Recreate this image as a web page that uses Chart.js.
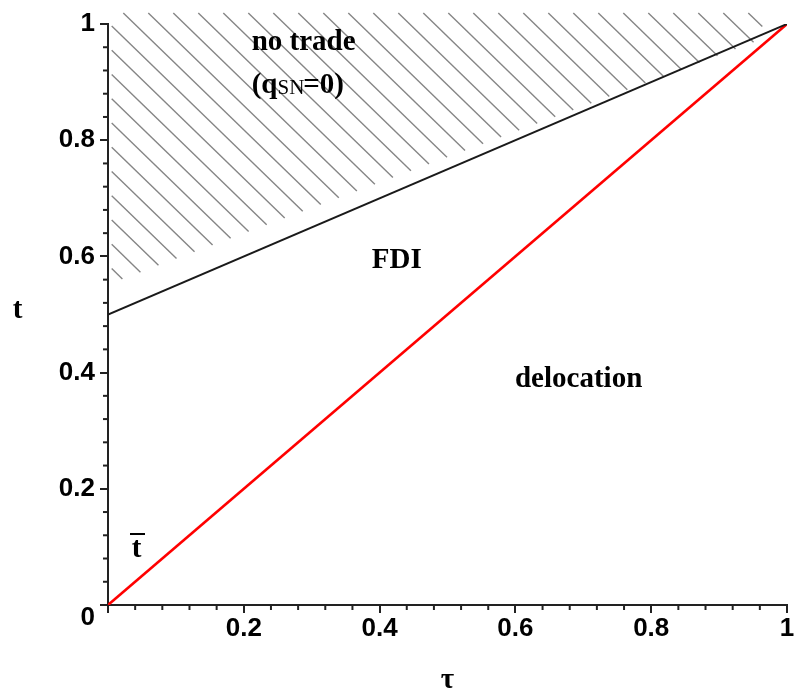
<!DOCTYPE html>
<html><head><meta charset="utf-8">
<script src="https://cdn.jsdelivr.net/npm/chart.js@4.4.1/dist/chart.umd.min.js"></script>
<style>html,body{margin:0;padding:0;background:#fff}#wrap{width:800px;height:695px;position:relative}</style>
</head><body><div id="wrap"><canvas id="c" width="800" height="695"></canvas></div>
<script>
// ---- data ----
const tau = [0, 1];
const tBar = [0, 1];              // red line: t-bar = tau
const tNoTrade = [0.5, 1];        // upper boundary (no trade above)
const hatchEdge = [0.552, 0.99];  // lower edge of the hatching (as drawn in the original)
const xTickValues = [0, 0.2, 0.4, 0.6, 0.8, 1];
const xTickLabels = ['', '0.2', '0.4', '0.6', '0.8', '1'];
const yTickValues = [0, 0.2, 0.4, 0.6, 0.8, 1];
const yTickLabels = ['0', '0.2', '0.4', '0.6', '0.8', '1'];
const minorStep = 0.04;
const regionText = ['no trade', 'FDI', 'delocation'];

const AXIS = '#222';
const SERIF = '"Liberation Serif", "Times New Roman", serif';
const SANS = '"Liberation Sans", Arial, sans-serif';

const hatchPlugin = {
  id: 'hatch',
  beforeDatasetsDraw(chart) {
    const {ctx, chartArea, scales: {x, y}} = chart;
    const left = chartArea.left, top = chartArea.top;
    const s = 0.97, spacing = 25;
    const yL = y.getPixelForValue(hatchEdge[0]);
    const yR = y.getPixelForValue(hatchEdge[1]);
    const xL = x.getPixelForValue(0), xR = x.getPixelForValue(1);
    const m = (yR - yL) / (xR - xL);
    const edge = px => yL + m * (px - xL);
    const y0 = top - 11;
    const xmin = left + 3.7;
    ctx.save();
    ctx.strokeStyle = '#858585';
    ctx.lineWidth = 1.4;
    for (let k = -14; k <= 25; k++) {
      const x0 = left + 15.3 + spacing * k;
      let xs = x0, ys = y0;
      if (x0 < xmin) { xs = xmin; ys = y0 + s * (xmin - x0); }
      if (ys >= edge(xs)) continue;
      let xe = (yL - m * xL - y0 + s * x0) / (s - m);
      xe = Math.min(xe, xs + 14 + (k >= 25 ? 0 : 1e9));
      const ye = y0 + s * (xe - x0);
      ctx.beginPath();
      ctx.moveTo(xs, ys);
      ctx.lineTo(xe, ye);
      ctx.stroke();
    }
    ctx.restore();
  },
  afterDraw(chart) {
    const {ctx, chartArea, scales: {x, y}} = chart;
    ctx.save();
    // minor ticks
    ctx.strokeStyle = AXIS;
    ctx.lineWidth = 2;
    for (let i = 1; i * minorStep < 1.0001; i++) {
      const v = i * minorStep;
      if (Math.abs(v / 0.2 - Math.round(v / 0.2)) < 1e-6) continue;
      const px = x.getPixelForValue(v);
      ctx.beginPath(); ctx.moveTo(px, chartArea.bottom); ctx.lineTo(px, chartArea.bottom + 5); ctx.stroke();
      const py = y.getPixelForValue(v);
      ctx.beginPath(); ctx.moveTo(chartArea.left, py); ctx.lineTo(chartArea.left - 5, py); ctx.stroke();
    }
    // texts
    ctx.fillStyle = '#000';
    ctx.textBaseline = 'alphabetic';
    ctx.textAlign = 'left';
    const bold = 'bold 29px ' + SERIF;
    ctx.font = bold;
    ctx.fillText(regionText[0], x.getPixelForValue(0.2116), y.getPixelForValue(0.9552));
    // (q_SN=0)
    let px = x.getPixelForValue(0.2116), py = y.getPixelForValue(0.8812);
    ctx.font = bold; ctx.fillText('(q', px, py); px += ctx.measureText('(q').width;
    ctx.font = '21px ' + SERIF; ctx.fillText('SN', px, py + 1); px += ctx.measureText('SN').width;
    ctx.font = bold; ctx.fillText('=0)', px - 1, py);
    ctx.fillText(regionText[1], x.getPixelForValue(0.3884), y.getPixelForValue(0.58));
    ctx.fillText(regionText[2], x.getPixelForValue(0.5994), y.getPixelForValue(0.3752));
    // t-bar
    const tx = x.getPixelForValue(0.0349), ty = y.getPixelForValue(0.0826);
    ctx.fillText('t', tx, ty);
    ctx.fillRect(tx - 1.7, ty - 24, 15, 2);
    // y axis title
    ctx.fillText('t', 12.7, 318);
    ctx.restore();
  }
};

const ctx = document.getElementById('c').getContext('2d');
new Chart(ctx, {
  type: 'scatter',
  data: {
    datasets: [
      { data: tau.map((v, i) => ({x: v, y: tNoTrade[i]})), showLine: true, borderColor: '#1a1a1a', borderWidth: 2, pointRadius: 0 },
      { data: tau.map((v, i) => ({x: v, y: tBar[i]})), showLine: true, borderColor: '#ff0000', borderWidth: 2.6, pointRadius: 0 }
    ]
  },
  options: {
    responsive: false, animation: false, devicePixelRatio: 1,
    layout: { padding: { top: 24, right: 13, bottom: 0, left: 0 } },
    plugins: { legend: { display: false }, tooltip: { enabled: false } },
    scales: {
      x: {
        type: 'linear', min: 0, max: 1, position: 'bottom',
        afterFit(s) { s.height = 90; },
        afterBuildTicks(s) { s.ticks = xTickValues.map(v => ({value: v})); },
        ticks: {
          callback: (v) => { const i = xTickValues.findIndex(t => Math.abs(t - v) < 1e-9); return i >= 0 ? xTickLabels[i] : ''; },
          font: { family: SANS, weight: 'bold', size: 26 }, color: '#000', padding: 0, maxRotation: 0, autoSkip: false
        },
        grid: { drawOnChartArea: false, drawTicks: true, tickLength: 8, color: AXIS, lineWidth: 2 },
        border: { display: true, color: AXIS, width: 2 },
        title: { display: true, text: 'τ', font: { family: SERIF, weight: 'bold', size: 29 }, color: '#000', padding: { top: 0, bottom: -3 } }
      },
      y: {
        type: 'linear', min: 0, max: 1, position: 'left',
        afterFit(s) { s.width = 108; },
        afterBuildTicks(s) { s.ticks = yTickValues.map(v => ({value: v})); },
        ticks: {
          callback: (v) => { const i = yTickValues.findIndex(t => Math.abs(t - v) < 1e-9); if (i < 0) return ''; return v === 0 ? ['', yTickLabels[i]] : yTickLabels[i]; },
          font: { family: SANS, weight: 'bold', size: 26, lineHeight: 1.0 }, color: '#000', padding: 5, autoSkip: false
        },
        grid: { drawOnChartArea: false, drawTicks: true, tickLength: 8, color: AXIS, lineWidth: 2 },
        border: { display: true, color: AXIS, width: 2 }
      }
    }
  },
  plugins: [hatchPlugin]
});
</script>
</body></html>
